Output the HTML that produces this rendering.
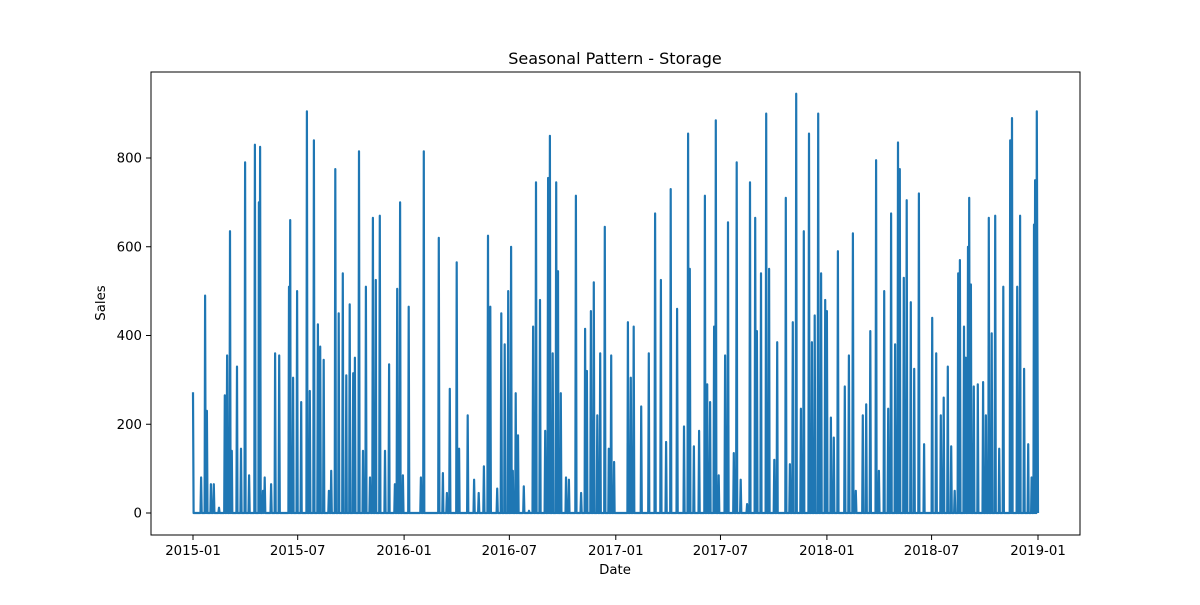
<!DOCTYPE html>
<html><head><meta charset="utf-8"><style>
body{margin:0;background:#fff;}
svg text{font-family:"DejaVu Sans","Liberation Sans",sans-serif;}
</style></head><body>
<svg id="chart" width="1200" height="600">
<rect width="1200" height="600" fill="#fff"/>
<text x="615" y="64" font-size="16" text-anchor="middle">Seasonal Pattern - Storage</text>
<g id="plot"></g>
<rect x="151" y="72" width="929" height="463" fill="none" stroke="#000" stroke-width="1"/>
<g id="axes"></g>
<text x="615" y="574" font-size="13.3" text-anchor="middle">Date</text>
<text x="105" y="303" font-size="13.3" text-anchor="middle" transform="rotate(-90 105 303)">Sales</text>
</svg>
<script>
const spikeDays=[0,14,21,24,31,36,45,55,59,64,67,76,83,90,97,107,114,116,121,124,135,142,149,166,168,173,180,187,197,202,209,216,220,226,235,239,246,252,259,265,271,277,280,287,294,299,306,311,316,323,332,339,349,353,358,363,373,394,399,425,432,439,444,456,460,475,486,494,503,510,514,526,533,539,545,550,553,558,562,572,581,588,593,600,609,614,617,622,628,631,636,645,650,662,671,678,681,688,693,699,704,712,719,723,728,752,757,762,775,788,799,809,818,826,837,849,856,859,866,875,885,889,894,901,904,909,920,925,935,940,947,958,963,972,975,982,991,996,1005,1010,1025,1032,1037,1043,1051,1056,1065,1070,1075,1081,1086,1093,1096,1103,1108,1115,1127,1134,1141,1146,1158,1164,1171,1181,1186,1195,1202,1207,1214,1219,1222,1229,1234,1241,1247,1255,1264,1278,1285,1293,1298,1305,1311,1317,1323,1326,1333,1336,1340,1342,1345,1350,1357,1366,1371,1376,1381,1387,1394,1401,1413,1416,1425,1430,1437,1444,1450,1454,1456,1459];
const spikeValues=[272,80,490,230,65,65,12,265,355,635,140,330,145,790,85,830,700,825,50,80,65,360,355,510,660,305,500,250,905,275,840,425,375,345,50,95,775,450,540,310,470,315,350,815,140,510,80,665,525,670,140,335,65,505,700,85,465,80,815,620,90,45,280,565,145,220,75,45,105,625,465,55,450,380,500,600,95,270,175,60,5,420,745,480,185,755,850,360,745,545,270,80,75,715,45,415,320,455,520,220,360,645,145,355,115,430,305,420,240,360,675,525,160,730,460,195,855,550,150,185,715,290,250,420,885,85,355,655,135,790,75,20,745,665,410,540,900,550,120,385,710,110,430,945,235,635,855,385,445,900,540,480,455,215,170,590,285,355,630,50,220,245,410,795,95,500,235,675,380,835,775,530,705,475,325,720,155,440,360,220,260,330,150,50,540,570,420,350,600,710,515,285,290,295,220,665,405,670,145,510,840,890,510,670,325,155,80,650,750,905];
const yTicks=[0,200,400,600,800];
const xTickLabels=["2015-01","2015-07","2016-01","2016-07","2017-01","2017-07","2018-01","2018-07","2019-01"];
const xTickDays=[0,181,365,547,731,912,1096,1277,1461];
const totalDays=1461;

const NS="http://www.w3.org/2000/svg";
const xs=d=>193+d*(1038-193)/totalDays;
const ys=v=>513-v*(513-158)/800;

let pts=[[0,spikeValues[0]]];
for(let i=1;i<spikeDays.length;i++){
  const prev=spikeDays[i-1],cur=spikeDays[i];
  if(cur-prev>1){pts.push([prev+1,0]);}
  if(cur-prev>2){pts.push([cur-1,0]);}
  pts.push([cur,spikeValues[i]]);
}
pts.push([totalDays,0]);
const path=document.createElementNS(NS,"path");


path.setAttribute("d",pts.map((p,i)=>(i?"L":"M")+xs(p[0]).toFixed(1)+","+ys(p[1]).toFixed(1)).join(""));
path.setAttribute("fill","none");path.setAttribute("stroke","#1f77b4");path.setAttribute("stroke-width","2.2");
path.setAttribute("stroke-linejoin","round");
document.getElementById("plot").appendChild(path);

const ax=document.getElementById("axes");
yTicks.forEach(v=>{
  const y=ys(v);
  const t=document.createElementNS(NS,"line");
  
  
  t.setAttribute("x1",146);t.setAttribute("x2",151);t.setAttribute("y1",y);t.setAttribute("y2",y);t.setAttribute("stroke","#000");
  ax.appendChild(t);
  const l=document.createElementNS(NS,"text");
  
  
  l.setAttribute("x",142);l.setAttribute("y",y+4.5);l.setAttribute("font-size","13.3");l.setAttribute("text-anchor","end");
  l.textContent=v;ax.appendChild(l);
});
xTickDays.forEach((d,i)=>{
  const x=xs(d);
  const t=document.createElementNS(NS,"line");
  
  
  t.setAttribute("x1",x);t.setAttribute("x2",x);t.setAttribute("y1",535);t.setAttribute("y2",540);t.setAttribute("stroke","#000");
  ax.appendChild(t);
  const l=document.createElementNS(NS,"text");
  
  
  l.setAttribute("x",x);l.setAttribute("y",555);l.setAttribute("font-size","13.3");l.setAttribute("text-anchor","middle");
  l.textContent=xTickLabels[i];ax.appendChild(l);
});
</script>
</body></html>
